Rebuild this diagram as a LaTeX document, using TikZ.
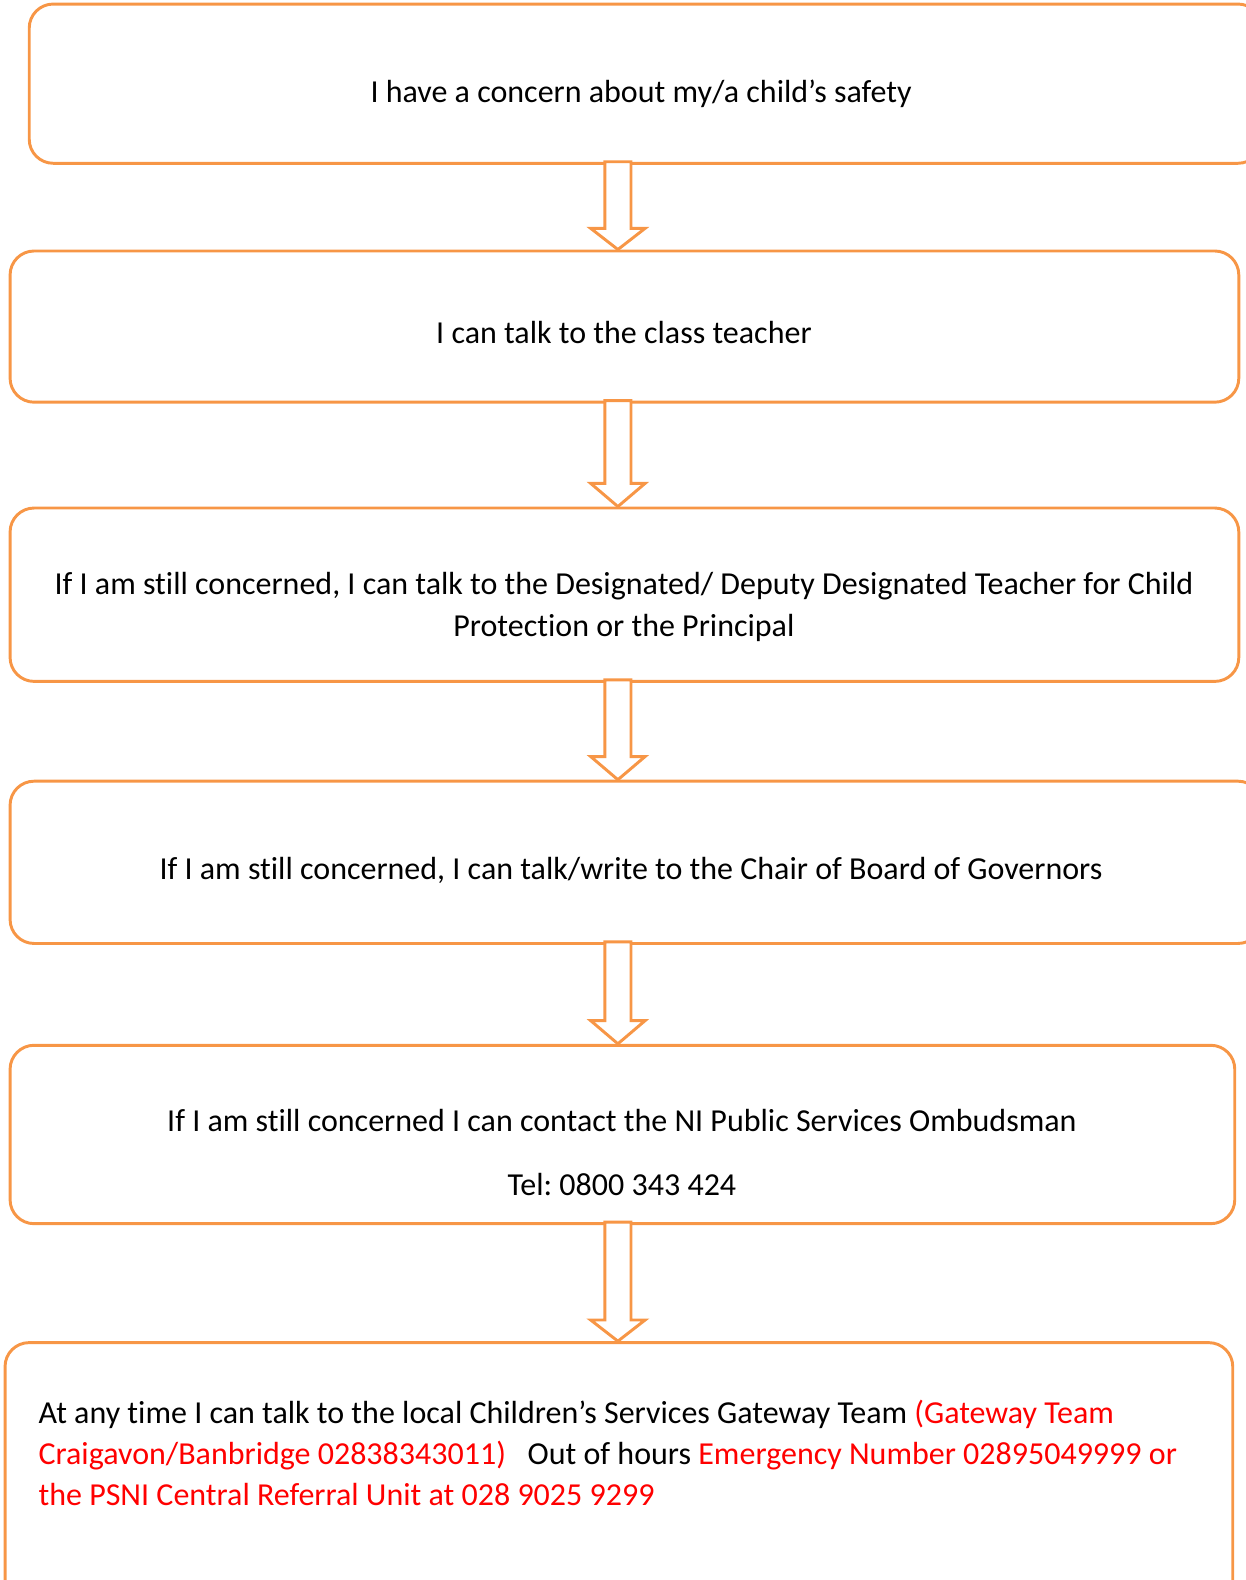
\documentclass[tikz,border=0pt]{standalone}
\usepackage{fontspec}
\setmainfont{Carlito}[Ligatures=NoCommon]
\usetikzlibrary{calc}
\definecolor{boxorange}{HTML}{F79646}
\definecolor{txtred}{HTML}{FF0000}
\def\pxu{0.756}
\tikzset{
  flowbox/.style={draw=boxorange, line width=2.2pt, rounded corners=18pt, rectangle, inner sep=0pt},
  flowtext/.style={font=\fontsize{24pt}{31pt}\selectfont\frenchspacing, inner sep=0pt, anchor=base},
  flowarrow/.style={draw=boxorange, fill=white, line width=2.2pt, line join=miter},
}
\newcommand{\boxat}[5]{%
  \node[flowbox, minimum width={(#4-#2)*\pxu pt}, minimum height={(#5-#3)*\pxu pt}] (#1) at ({(#2+#4)/2},{(#3+#5)/2}) {};}
\newcommand{\flowarr}[3]{%
  \draw[flowarrow] ($(ax|-#1.south)+(-13,-3)$) -- ($(ax|-#2.north)+(-13,-#3)$) -- ($(ax|-#2.north)+(-27,-#3)$) -- (ax|-#2.north) -- ($(ax|-#2.north)+(27,-#3)$) -- ($(ax|-#2.north)+(13,-#3)$) -- ($(ax|-#1.south)+(13,-3)$) -- cycle;}
\begin{document}
\begin{tikzpicture}[x=\pxu pt,y=-\pxu pt]
\useasboundingbox (0,0) rectangle (1236.1,1567.5);
\coordinate (ax) at (613,0);
\boxat{b1}{29}{4}{1252}{162}
\boxat{b2}{10}{249}{1229}{399}
\boxat{b3}{10}{504}{1229}{676}
\boxat{b4}{10}{775}{1252}{936}
\boxat{b5}{10}{1037}{1225}{1214}
\boxat{b6}{5}{1332}{1223}{1600}
\flowarr{b1}{b2}{21}
\flowarr{b2}{b3}{23}
\flowarr{b3}{b4}{23}
\flowarr{b4}{b5}{23}
\flowarr{b5}{b6}{21}
\node[flowtext] (t1) at (636,102) {I have a concern about my/a child’s safety};
\node[flowtext] (t2) at (619,341) {I can talk to the class teacher};
\node[flowtext, align=center] (t3) at (619,631) {If I am still concerned, I can talk to the Designated/ Deputy Designated Teacher for Child\\Protection or the Principal};
\node[flowtext] (t4) at (626,873) {If I am still concerned, I can talk/write to the Chair of Board of Governors};
\node[flowtext] (t5) at (617,1123) {If I am still concerned I can contact the NI Public Services Ombudsman};
\node[flowtext] (t5b) at (617,1186) {Tel: 0800 343 424};
\node[flowtext, align=left, anchor=base west] (t6) at (38,1494) {At any time I can talk to the local Children’s Services Gateway Team \textcolor{txtred}{(Gateway Team}\\\textcolor{txtred}{Craigavon/Banbridge 02838343011)}\ \ \ Out of hours \textcolor{txtred}{Emergency Number 02895049999 or}\\\textcolor{txtred}{the PSNI Central Referral Unit at 028 9025 9299}};
\end{tikzpicture}
\end{document}
